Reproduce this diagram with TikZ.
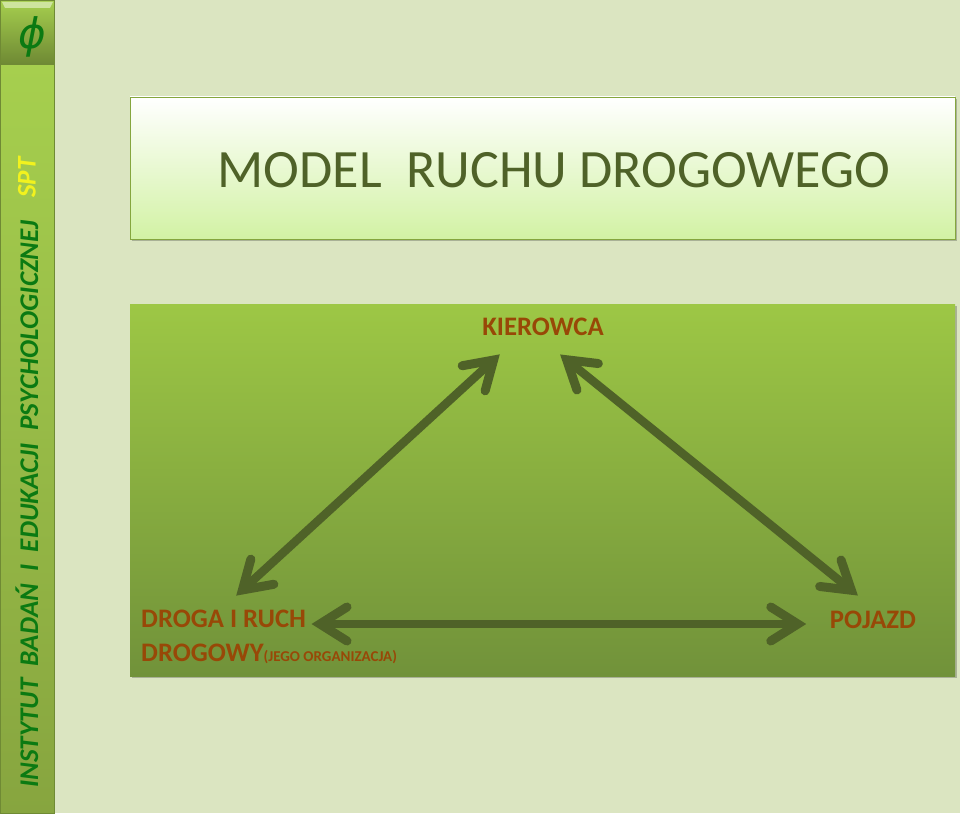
\documentclass[tikz,border=0pt]{standalone}
\usepackage{fontspec}
\setmainfont{Carlito}
\newfontfamily\phifont{DejaVu Sans}
\usepackage{xcolor}
\usetikzlibrary{arrows.meta,positioning,calc}
\definecolor{PageBack}{HTML}{DBE5C1}
\definecolor{BarTop}{HTML}{A6CF4E}
\definecolor{BarBottom}{HTML}{87A53F}
\definecolor{BarEdge}{HTML}{6F8A34}
\definecolor{PanelTop}{HTML}{9DC745}
\definecolor{PanelBottom}{HTML}{71923A}
\definecolor{TitleBottom}{HTML}{D2F2A4}
\definecolor{TitleText}{HTML}{4F6228}
\definecolor{ArrowDark}{HTML}{4F6228}
\definecolor{LabelBrown}{HTML}{984807}
\definecolor{InstGreen}{HTML}{0B7A12}
\definecolor{InstYellow}{HTML}{F2F21E}
\definecolor{ShadowGray}{HTML}{A9B196}
\pgfdeclarearrow{
  name=BarbTip,
  setup code={
    \pgfarrowssettipend{0pt}
    \pgfarrowssetlineend{-10pt}
    \pgfarrowssetvisualbackend{-40pt}
    \pgfarrowssetbackend{-40pt}
    \pgfarrowshullpoint{0pt}{0pt}
    \pgfarrowshullpoint{-40pt}{22pt}
    \pgfarrowshullpoint{-40pt}{-22pt}
  },
  drawing code={
    \pgfsetlinewidth{9pt}
    \pgfsetroundcap
    \pgfsetmiterjoin
    \pgfsetmiterlimit{10}
    \pgfpathmoveto{\pgfpoint{-33pt}{17pt}}
    \pgfpathlineto{\pgfpoint{-6pt}{0pt}}
    \pgfpathlineto{\pgfpoint{-33pt}{-17pt}}
    \pgfusepathqstroke
  }
}
\tikzset{
  sidebar/.style={draw=BarEdge,line width=1pt,top color=BarTop,bottom color=BarBottom,minimum width=54pt,inner sep=0pt},
  phibox/.style={draw=BarEdge,line width=1pt,top color=BarTop,bottom color=BarEdge,minimum width=54pt,minimum height=63pt,inner sep=0pt},
  titlepanel/.style={draw=BarTop!80!black,line width=.8pt,top color=white,bottom color=TitleBottom,minimum width=825pt,minimum height=142pt,inner sep=0pt},
  mainpanel/.style={top color=PanelTop,bottom color=PanelBottom,minimum width=825pt,minimum height=372pt,inner sep=0pt},
  shadowbox/.style={fill=ShadowGray,minimum width=825pt,inner sep=0pt},
  titletext/.style={font=\fontsize{54}{64}\selectfont,text=TitleText,inner sep=0pt},
  corner/.style={font=\fontsize{26.7}{34}\selectfont\bfseries,text=LabelBrown,inner sep=0pt,align=left},
  instlabel/.style={rotate=90,font=\fontsize{27}{32}\selectfont\bfseries\itshape\addfontfeature{Kerning=Off},inner sep=0pt},
  arrow/.style={{BarbTip}-{BarbTip},line width=8.5pt,draw=ArrowDark}
}
\begin{document}
\begin{tikzpicture}[x=1pt,y=-1pt]
\useasboundingbox (0,0) rectangle (960,813);
\fill[PageBack] (0,0) rectangle (960,813);
% left bar
\node[sidebar,minimum height=748pt] (bar) at (27.5,439) {};
\node[phibox] (phi) at (27.5,32) {};
\fill[BarTop!55!white] (2,2) -- (53,2) -- (50,8) -- (5,8) -- cycle;
\node[text=InstGreen,inner sep=0pt] (phisign) at (32,37) {\phifont\itshape\fontsize{42}{42}\selectfont ϕ};
\node[instlabel,text=InstGreen,anchor=west] (inst) at (27,788) {INSTYTUT~ BADAŃ~ I~ EDUKACJI~ PSYCHOLOGICZNEJ};
\node[instlabel,text=InstYellow,anchor=west] (spt) at (27,198) {SPT};
% panels
\node[shadowbox,minimum height=142pt] (titleshadow) at (544,170) {};
\node[titlepanel] (titlebox) at (542.5,168) {};
\node[titletext] (title) at (554,170) {MODEL~ RUCHU DROGOWEGO};
\node[shadowbox,minimum height=372pt] (mainshadow) at (544,492) {};
\node[mainpanel] (mainbox) at (542.5,490) {};
% labels
\node[corner] (kierowca) at (543,327) {KIEROWCA};
\node[corner,anchor=north west] (droga) at (141,610) {DROGA I RUCH\\DROGOWY{\fontsize{15}{15}\selectfont(JEGO ORGANIZACJA)}};
\node[corner] (pojazd) at (873,620) {POJAZD};
% connectors
\draw[arrow] ([shift={(-45,29)}]kierowca.center) -- ([shift={(97,-16)}]droga.north west);
\draw[arrow] ([shift={(19,29)}]kierowca.center) -- ([shift={(-17,-26)}]pojazd.center);
\draw[arrow] ([shift={(173,14)}]droga.north west) -- ([shift={(-26,4)}]pojazd.west);
\end{tikzpicture}
\end{document}
